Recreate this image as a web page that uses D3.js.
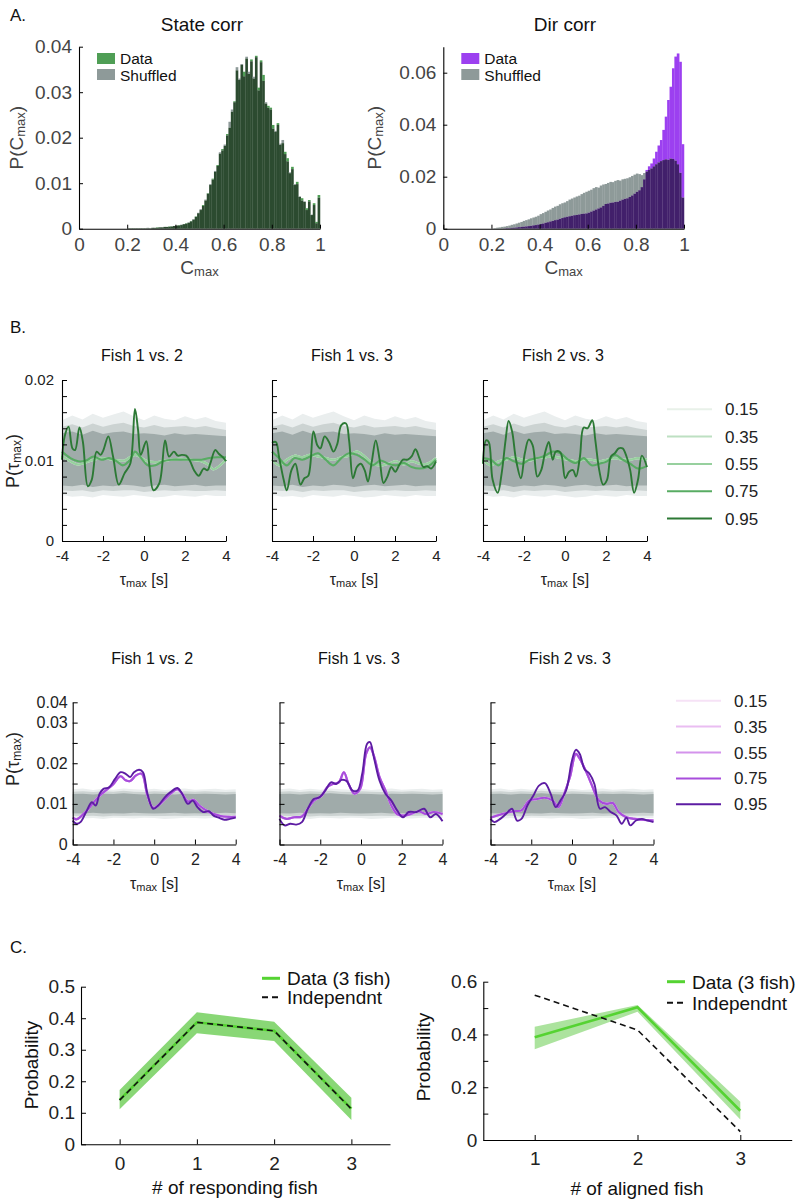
<!DOCTYPE html>
<html><head><meta charset="utf-8">
<script src="https://cdn.jsdelivr.net/npm/d3@7/dist/d3.min.js"></script>
<style>html,body{margin:0;padding:0;background:#fff}svg{display:block}</style>
</head><body>
<svg id="fig" width="800" height="1202" xmlns="http://www.w3.org/2000/svg"></svg>
<script>
// ================= DATA =================
// ---- Panel A: histograms of C_max (100 bins on [0,1]) ----
const cmaxBinStart = d3.range(100).map(i => i / 100);
const cmaxTicks = [0, 0.2, 0.4, 0.6, 0.8, 1];
const stateYTicks = [0, 0.01, 0.02, 0.03, 0.04];
const dirYTicks = [0, 0.02, 0.04, 0.06];

const stateCorrData = [
  0,0,0,0,0,0,0,0,0,0,
  0,0,0,0,0,0,0,0,0,0,
  .0001,.0001,.0001,.0001,.0001,.0001,.0001,.0001,.0001,.0001,
  .0002,.0002,.0003,.0003,.0003,.0004,.0004,.0005,.0005,.0006,
  .0007,.0008,.0008,.0010,.0012,.0013,.0017,.0020,.0027,.0034,
  .0041,.0052,.0062,.0078,.0096,.0110,.0125,.0140,.0165,.0175,
  .0182,.0208,.0222,.0257,.0280,.0348,.0327,.0360,.0345,.0374,
  .0340,.0372,.0330,.0380,.0310,.0370,.0338,.0275,.0270,.0266,
  .0228,.0213,.0232,.0184,.0188,.0169,.0155,.0122,.0136,.0096,
  .0103,.0070,.0067,.0059,.0045,.0063,.0030,.0056,.0015,.0074];
const stateCorrShuffled = [
  0,0,0,0,0,0,0,0,0,0,
  0,0,0,0,0,0,0,0,0,0,
  .0001,.0001,.0001,.0001,.0001,.0001,.0001,.0001,.0002,.0001,
  .0002,.0002,.0002,.0003,.0003,.0004,.0004,.0004,.0005,.0006,
  .0007,.0007,.0009,.0010,.0011,.0014,.0016,.0021,.0026,.0035,
  .0043,.0050,.0064,.0077,.0098,.0108,.0127,.0138,.0168,.0172,
  .0185,.0205,.0235,.0262,.0278,.0355,.0330,.0362,.0335,.0378,
  .0345,.0368,.0334,.0377,.0304,.0366,.0325,.0278,.0266,.0262,
  .0220,.0215,.0228,.0187,.0195,.0164,.0148,.0124,.0131,.0098,
  .0098,.0071,.0062,.0060,.0041,.0060,.0031,.0052,.0012,.0068];
const dirCorrData = [
  0,0,0,0,0,0,0,0,0,0,
  0,0,0,0,0,0,0,0,0,0,
  0,0,0,0,0,.0001,.0002,.0002,.0003,.0004,
  .0005,.0006,.0007,.0008,.0009,.0010,.0011,.0013,.0014,.0016,
  .0018,.0020,.0023,.0025,.0028,.0030,.0033,.0035,.0038,.0041,
  .0044,.0046,.0048,.0050,.0052,.0053,.0055,.0057,.0058,.0059,
  .0062,.0066,.0070,.0074,.0078,.0082,.0088,.0095,.0097,.0100,
  .0101,.0103,.0104,.0108,.0112,.0115,.0117,.0122,.0128,.0135,
  .0142,.0148,.0160,.0190,.0226,.0240,.0251,.0270,.0296,.0320,
  .0341,.0380,.0431,.0495,.0546,.0617,.0662,.0674,.0642,.0325];
const dirCorrShuffled = [
  0,0,0,0,0,0,0,0,0,0,
  0,0,0,0,0,0,0,0,0,0,
  .0001,.0002,.0004,.0005,.0007,.0008,.0010,.0012,.0015,.0017,
  .0020,.0023,.0026,.0030,.0033,.0036,.0040,.0043,.0046,.0050,
  .0056,.0060,.0065,.0070,.0074,.0080,.0085,.0088,.0094,.0098,
  .0101,.0106,.0112,.0116,.0120,.0124,.0127,.0133,.0138,.0142,
  .0146,.0150,.0156,.0160,.0158,.0166,.0170,.0172,.0176,.0180,
  .0179,.0184,.0187,.0185,.0190,.0192,.0194,.0198,.0203,.0208,
  .0212,.0210,.0206,.0214,.0220,.0226,.0232,.0240,.0248,.0255,
  .0260,.0264,.0267,.0265,.0270,.0268,.0262,.0248,.0215,.0120];

// ---- Panel B: P(tau_max) curves, [tau, P] pairs ----
const tauTicks = [-4, -2, 0, 2, 4];
const thresholds = ["0.15", "0.35", "0.55", "0.75", "0.95"];
const pairTitles = ["Fish 1 vs. 2", "Fish 1 vs. 3", "Fish 2 vs. 3"];
const stateTauYTicks = [0,.002,.004,.006,.008,.01,.012,.014,.016,.018,.02];
const stateTauYLabels = {0:"0", 0.01:"0.01", 0.02:"0.02"};
const dirTauYTicks = [0,.005,.01,.015,.02,.025,.03,.035];
const dirTauYLabels = {0:"0", 0.01:"0.01", 0.02:"0.02", 0.03:"0.03", 0.035:"0.04"};

const stateDark12 = [[-4.0,.0101],[-3.87,.0130],[-3.68,.0142],[-3.49,.0115],[-3.36,.0113],[-3.15,.0141],[-2.98,.0123],[-2.74,.0068],[-2.55,.0076],[-2.31,.0111],[-2.12,.0107],[-1.98,.0113],[-1.74,.0130],[-1.51,.0105],[-1.23,.0070],[-0.95,.0084],[-0.67,.0096],[-0.44,.0164],[-0.29,.0138],[-0.16,.0107],[0.11,.0124],[0.27,.0092],[0.46,.0063],[0.75,.0072],[1.03,.0125],[1.22,.0105],[1.46,.0111],[1.65,.0106],[1.84,.0107],[2.06,.0106],[2.25,.0099],[2.44,.0088],[2.67,.0081],[2.91,.0090],[3.10,.0088],[3.23,.0096],[3.48,.0113],[3.66,.0108],[3.85,.0104],[4.0,.0099]];
const stateMid12 = [[-4,.0111],[-3.59,.0103],[-3.21,.0099],[-2.83,.0100],[-2.46,.0105],[-2.08,.0101],[-1.70,.0103],[-1.33,.0099],[-1.04,.0094],[-0.67,.0101],[-0.44,.0111],[-0.20,.0105],[0.18,.0094],[0.56,.0094],[0.93,.0099],[1.31,.0101],[1.69,.0101],[2.06,.0101],[2.44,.0101],[2.82,.0101],[3.19,.0103],[3.57,.0104],[4.0,.0104]];
const stateLight12 = [[-4,.0106],[-3.59,.0099],[-3.21,.0095],[-2.46,.0101],[-2.0,.0103],[-1.51,.0101],[-0.95,.0100],[-0.44,.0107],[0.18,.0099],[0.6,.0098],[1.31,.0101],[1.8,.0102],[2.25,.0101],[2.8,.0099],[3.19,.0094],[3.38,.0089],[4.0,.0101]];
const stateDark13 = [[-4.0,.0122],[-3.81,.0123],[-3.66,.0105],[-3.43,.0076],[-3.28,.0063],[-3.05,.0088],[-2.86,.0096],[-2.61,.0070],[-2.42,.0078],[-2.23,.0081],[-1.98,.0136],[-1.79,.0119],[-1.64,.0115],[-1.43,.0130],[-1.22,.0123],[-1.00,.0111],[-0.81,.0121],[-0.62,.0144],[-0.39,.0146],[-0.24,.0125],[-0.05,.0078],[0.14,.0092],[0.33,.0096],[0.52,.0088],[0.68,.0074],[0.87,.0099],[1.06,.0125],[1.25,.0101],[1.44,.0072],[1.63,.0080],[1.82,.0092],[2.01,.0086],[2.20,.0094],[2.39,.0101],[2.62,.0101],[2.81,.0105],[3.00,.0114],[3.19,.0103],[3.38,.0092],[3.57,.0093],[3.76,.0090],[4.0,.0099]];
const stateMid13 = [[-4,.0111],[-3.66,.0103],[-3.28,.0094],[-2.90,.0103],[-2.52,.0101],[-2.14,.0105],[-1.76,.0109],[-1.38,.0101],[-1.00,.0094],[-0.62,.0103],[-0.24,.0109],[0.14,.0107],[0.52,.0101],[0.90,.0094],[1.29,.0100],[1.67,.0096],[2.05,.0094],[2.43,.0097],[2.81,.0092],[3.19,.0090],[3.57,.0092],[4.0,.0101]];
const stateLight13 = [[-4,.0101],[-3.66,.0094],[-3.28,.0101],[-2.90,.0106],[-2.52,.0104],[-2.14,.0107],[-1.76,.0105],[-1.38,.0103],[-1.00,.0101],[-0.62,.0104],[-0.24,.0106],[0.14,.0111],[0.52,.0105],[0.90,.0096],[1.29,.0094],[1.67,.0096],[2.05,.0099],[2.43,.0095],[2.81,.0099],[3.19,.0096],[3.57,.0096],[4.0,.0103]];
const stateDark23 = [[-4.0,.0096],[-3.85,.0125],[-3.72,.0123],[-3.53,.0076],[-3.28,.0060],[-3.09,.0084],[-2.90,.0125],[-2.75,.0149],[-2.58,.0136],[-2.39,.0101],[-2.15,.0078],[-1.96,.0109],[-1.77,.0126],[-1.58,.0119],[-1.35,.0080],[-1.16,.0088],[-0.98,.0109],[-0.79,.0123],[-0.60,.0101],[-0.45,.0111],[-0.22,.0110],[0.01,.0078],[0.20,.0086],[0.39,.0088],[0.54,.0080],[0.73,.0105],[0.91,.0141],[1.10,.0140],[1.33,.0150],[1.48,.0125],[1.67,.0088],[1.86,.0070],[2.05,.0076],[2.24,.0105],[2.43,.0109],[2.62,.0115],[2.81,.0115],[3.00,.0105],[3.18,.0088],[3.37,.0060],[3.56,.0076],[3.75,.0106],[4.0,.0092]];
const stateMid23 = [[-4,.0103],[-3.62,.0101],[-3.24,.0094],[-2.87,.0103],[-2.49,.0099],[-2.11,.0096],[-1.73,.0101],[-1.35,.0103],[-0.98,.0106],[-0.60,.0111],[-0.22,.0109],[0.16,.0101],[0.54,.0097],[0.91,.0103],[1.29,.0094],[1.67,.0096],[2.05,.0099],[2.43,.0107],[2.81,.0101],[3.18,.0096],[3.56,.0090],[4.0,.0093]];
const stateLight23 = [[-4,.0101],[-3.62,.0094],[-3.24,.0099],[-2.87,.0101],[-2.49,.0104],[-2.11,.0101],[-1.73,.0100],[-1.35,.0103],[-0.98,.0104],[-0.60,.0105],[-0.22,.0103],[0.16,.0101],[0.54,.0099],[0.91,.0101],[1.29,.0101],[1.67,.0099],[2.05,.0101],[2.43,.0103],[2.81,.0101],[3.18,.0101],[3.56,.0103],[4.0,.0101]];

const dirDark12 = [[-4,.0059],[-3.81,.0051],[-3.62,.0055],[-3.34,.0080],[-3.06,.0104],[-2.87,.0096],[-2.68,.0125],[-2.49,.0137],[-2.21,.0141],[-1.93,.0161],[-1.65,.0178],[-1.40,.0174],[-1.18,.0166],[-0.99,.0178],[-0.74,.0184],[-0.55,.0178],[-0.33,.0125],[-0.05,.0088],[0.20,.0096],[0.52,.0116],[0.80,.0129],[1.14,.0139],[1.37,.0125],[1.65,.0100],[1.89,.0108],[2.12,.0092],[2.40,.0080],[2.69,.0082],[2.91,.0071],[3.16,.0066],[3.44,.0061],[3.72,.0063],[4.0,.0066]];
const dirLight12 = [[-4,.0066],[-3.81,.0062],[-3.34,.0082],[-2.68,.0120],[-2.02,.0148],[-1.65,.0168],[-1.40,.0158],[-1.18,.0156],[-0.89,.0170],[-0.61,.0174],[-0.33,.0120],[-0.05,.0090],[0.24,.0098],[0.80,.0125],[1.14,.0136],[1.37,.0125],[1.65,.0106],[1.93,.0110],[2.21,.0096],[2.69,.0080],[3.25,.0070],[3.63,.0068],[4.0,.0068]];
const dirDark13 = [[-4,.0063],[-3.75,.0047],[-3.47,.0051],[-3.18,.0049],[-2.90,.0055],[-2.61,.0088],[-2.32,.0112],[-2.04,.0116],[-1.75,.0133],[-1.47,.0153],[-1.22,.0149],[-0.95,.0159],[-0.70,.0156],[-0.42,.0133],[-0.17,.0133],[0.06,.0174],[0.30,.0248],[0.44,.0252],[0.63,.0215],[0.91,.0157],[1.20,.0125],[1.49,.0108],[1.77,.0084],[2.06,.0067],[2.34,.0080],[2.72,.0080],[3.10,.0088],[3.39,.0067],[3.68,.0075],[4.0,.0057]];
const dirLight13 = [[-4,.0071],[-3.66,.0063],[-3.28,.0067],[-2.90,.0069],[-2.61,.0088],[-2.32,.0108],[-1.94,.0120],[-1.66,.0141],[-1.37,.0149],[-1.09,.0153],[-0.84,.0178],[-0.61,.0149],[-0.32,.0125],[-0.04,.0137],[0.25,.0223],[0.44,.0239],[0.63,.0219],[0.91,.0166],[1.20,.0133],[1.49,.0096],[1.77,.0075],[2.06,.0071],[2.44,.0075],[2.82,.0082],[3.20,.0075],[3.58,.0080],[4.0,.0075]];
const dirDark23 = [[-4,.0063],[-3.81,.0055],[-3.52,.0063],[-3.24,.0075],[-2.95,.0088],[-2.70,.0059],[-2.48,.0063],[-2.19,.0096],[-1.90,.0120],[-1.62,.0145],[-1.33,.0151],[-1.05,.0125],[-0.80,.0092],[-0.57,.0108],[-0.29,.0133],[0.0,.0207],[0.19,.0233],[0.38,.0223],[0.61,.0186],[0.86,.0174],[1.10,.0149],[1.37,.0088],[1.62,.0092],[1.90,.0080],[2.19,.0071],[2.44,.0051],[2.67,.0066],[2.86,.0047],[3.14,.0059],[3.43,.0063],[3.71,.0059],[4.0,.0055]];
const dirLight23 = [[-4,.0066],[-3.43,.0075],[-2.86,.0082],[-2.48,.0084],[-2.10,.0108],[-1.71,.0112],[-1.33,.0115],[-0.95,.0108],[-0.67,.0092],[-0.38,.0125],[-0.10,.0166],[0.19,.0223],[0.38,.0211],[0.67,.0182],[0.95,.0149],[1.33,.0108],[1.71,.0100],[2.0,.0102],[2.29,.0080],[2.67,.0067],[3.05,.0063],[3.43,.0061],[4.0,.0059]];

// shuffled-curve envelopes (gray band), sampled on tauBandGrid
const tauBandGrid = [-4,-3.5,-3,-2.5,-2,-1.5,-1,-0.5,0,0.5,1,1.5,2,2.5,3,3.5,4];
const stateBandOuterHi = [.0150,.0156,.0151,.0158,.0153,.0157,.0161,.0155,.0150,.0156,.0152,.0150,.0155,.0151,.0154,.0149,.0147];
const stateBandMidHi   = [.0142,.0145,.0141,.0146,.0142,.0145,.0147,.0143,.0141,.0144,.0141,.0142,.0143,.0141,.0143,.0140,.0138];
const stateBandInnerHi = [.0134,.0136,.0132,.0137,.0133,.0135,.0136,.0133,.0134,.0133,.0131,.0134,.0132,.0133,.0132,.0131,.0130];
const stateBandInnerLo = [.0069,.0068,.0070,.0067,.0069,.0068,.0070,.0069,.0067,.0069,.0070,.0068,.0069,.0070,.0068,.0069,.0069];
const stateBandMidLo   = [.0063,.0062,.0063,.0061,.0063,.0062,.0063,.0063,.0061,.0062,.0063,.0062,.0063,.0062,.0062,.0063,.0062];
const stateBandOuterLo = [.0057,.0055,.0056,.0054,.0057,.0056,.0055,.0057,.0056,.0054,.0055,.0057,.0056,.0055,.0057,.0056,.0056];
const dirBandOuterHi = [.0136,.0138,.0134,.0137,.0135,.0138,.0136,.0135,.0137,.0134,.0136,.0138,.0135,.0136,.0137,.0135,.0136];
const dirBandMidHi   = [.0130,.0131,.0129,.0131,.0130,.0132,.0130,.0129,.0131,.0130,.0129,.0131,.0130,.0131,.0130,.0129,.0130];
const dirBandInnerHi = [.0124,.0125,.0123,.0125,.0124,.0126,.0124,.0123,.0125,.0124,.0123,.0125,.0124,.0125,.0124,.0123,.0124];
const dirBandInnerLo = [.0077,.0076,.0078,.0076,.0077,.0076,.0078,.0077,.0076,.0077,.0078,.0076,.0077,.0076,.0077,.0078,.0077];
const dirBandMidLo   = [.0071,.0070,.0071,.0069,.0071,.0070,.0071,.0071,.0070,.0070,.0071,.0070,.0071,.0070,.0071,.0071,.0071];
const dirBandOuterLo = [.0066,.0064,.0065,.0063,.0066,.0065,.0064,.0066,.0065,.0063,.0064,.0066,.0065,.0064,.0066,.0065,.0065];

// ---- Panel C ----
const respondCounts = [0, 1, 2, 3];
const respondMean  = [0.141, 0.387, 0.360, 0.113];
const respondLo    = [0.111, 0.352, 0.328, 0.077];
const respondHi    = [0.172, 0.419, 0.389, 0.148];
const respondIndep = [0.140, 0.387, 0.360, 0.112];
const respondYTicks = [0, 0.1, 0.2, 0.3, 0.4, 0.5];
const alignedCounts = [1, 2, 3];
const alignedMean  = [0.389, 0.503, 0.111];
const alignedLo    = [0.344, 0.486, 0.078];
const alignedHi    = [0.429, 0.512, 0.145];
const alignedIndep = [0.549, 0.417, 0.032];
const alignedYTicks = [0, 0.1, 0.2, 0.3, 0.4, 0.5, 0.6];

// ================= DRAWING =================
const FONT = "'Liberation Sans', Arial, Helvetica, sans-serif";
const svg = d3.select("#fig").attr("font-family", FONT);
const greenShades = ["#e8f1e9", "#bde0c2", "#97d09e", "#58ac63", "#2c7935"];
const purpleShades = ["#f6e2f6", "#eabdf2", "#d493ec", "#a84ddc", "#5d1ca3"];

function richText(g, x, y, parts, size, subSize, anchor, rotate, fill) {
  const t = g.append("text").attr("x", x).attr("y", y).attr("font-size", size)
    .attr("text-anchor", anchor || "middle").attr("fill", fill || "#111");
  if (rotate) t.attr("transform", `rotate(-90,${x},${y})`);
  let prevSub = false;
  parts.forEach(p => {
    const ts = t.append("tspan").text(p.t);
    if (p.sub) { ts.attr("font-size", subSize).attr("dy", 2); prevSub = true; }
    else if (prevSub) { ts.attr("dy", -2); prevSub = false; }
  });
  return t;
}
function styleAxis(a, fontSize, color) {
  a.attr("font-family", FONT);
  a.select(".domain").attr("stroke", "#000").attr("stroke-width", 1.1);
  a.selectAll(".tick line").attr("stroke", "#000").attr("stroke-width", 1);
  a.selectAll(".tick text").attr("font-size", fontSize).attr("fill", color);
}
function panelLabel(txt, x, y) {
  svg.append("text").attr("x", x).attr("y", y).attr("font-size", 17).attr("fill", "#111").text(txt);
}

// ---------- Panel A ----------
panelLabel("A.", 10, 21);
function drawHist(cfg) {
  const g = svg.append("g");
  const x = d3.scaleLinear([0, 1], [cfg.left, cfg.left + cfg.w]);
  const y = d3.scaleLinear([0, cfg.yMax], [cfg.top + cfg.h, cfg.top]);
  const bw = 0.01;
  cmaxBinStart.forEach((b, i) => {
    const d = cfg.data[i], s = cfg.shuf[i];
    const hi = Math.max(d, s), lo = Math.min(d, s);
    const x0 = x(b), wpx = x(b + bw) - x(b) + 0.25;
    if (hi > lo) g.append("rect").attr("x", x0).attr("width", wpx)
      .attr("y", y(hi)).attr("height", y(lo) - y(hi)).attr("fill", d > s ? cfg.dataColor : cfg.shufColor);
    if (lo > 0) g.append("rect").attr("x", x0).attr("width", wpx)
      .attr("y", y(lo)).attr("height", y(0) - y(lo)).attr("fill", cfg.overlapColor);
  });
  const ax = g.append("g").attr("transform", `translate(0,${cfg.top + cfg.h})`)
    .call(d3.axisBottom(x).tickValues(cmaxTicks).tickFormat(d => d === 0 ? "0" : d === 1 ? "1" : d3.format(".1f")(d))
      .tickSizeInner(-4).tickSizeOuter(0).tickPadding(9));
  styleAxis(ax, 19, "#444");
  const ay = g.append("g").attr("transform", `translate(${cfg.left},0)`)
    .call(d3.axisLeft(y).tickValues(cfg.yTicks).tickFormat(d => d === 0 ? "0" : d3.format(".2f")(d))
      .tickSizeInner(-4).tickSizeOuter(0).tickPadding(7));
  styleAxis(ay, 19, "#444");
  g.append("text").attr("x", cfg.titleX).attr("y", 31).attr("text-anchor", "middle")
    .attr("font-size", 19).attr("fill", "#111").text(cfg.title);
  richText(g, cfg.left + cfg.w / 2, 274, [{t: "C"}, {t: "max", sub: true}], 19, 13, "middle", false, "#444");
  richText(g, cfg.yLabelX, cfg.top + cfg.h / 2, [{t: "P(C"}, {t: "max", sub: true}, {t: ")"}], 19, 13, "middle", true, "#444");
  // legend
  const lx = cfg.left + 18;
  g.append("rect").attr("x", lx).attr("y", 53).attr("width", 18).attr("height", 11).attr("fill", cfg.dataColor);
  g.append("rect").attr("x", lx).attr("y", 69).attr("width", 18).attr("height", 11).attr("fill", cfg.shufColor);
  g.append("text").attr("x", lx + 23).attr("y", 64).attr("font-size", 15.5).attr("fill", "#111").text("Data");
  g.append("text").attr("x", lx + 23).attr("y", 81).attr("font-size", 15.5).attr("fill", "#111").text("Shuffled");
}
drawHist({left: 79, top: 46.7, w: 241, h: 182, yMax: 0.04, yTicks: stateYTicks,
  data: stateCorrData, shuf: stateCorrShuffled, dataColor: "#4f9e55", shufColor: "#8e9a99", overlapColor: "#2c4b30",
  title: "State corr", titleX: 202, yLabelX: 23});
drawHist({left: 443.3, top: 46.7, w: 240.7, h: 182, yMax: 0.07, yTicks: dirYTicks,
  data: dirCorrData, shuf: dirCorrShuffled, dataColor: "#9c40f0", shufColor: "#8e9a99", overlapColor: "#42206b",
  title: "Dir corr", titleX: 565, yLabelX: 381});

// ---------- Panel B ----------
panelLabel("B.", 10, 333);
function drawTau(cfg) {
  const g = svg.append("g");
  const x = d3.scaleLinear([-4, 4], [cfg.left, cfg.left + cfg.w]);
  const y = d3.scaleLinear([0, cfg.yMax], [cfg.top + cfg.h, cfg.top]);
  const area = d3.area().x((d, i) => x(tauBandGrid[i])).y0(d => y(d[0])).y1(d => y(d[1]));
  const b = cfg.band;
  g.append("path").datum(d3.zip(b.outerLo, b.outerHi)).attr("d", area).attr("fill", "#eaeeee");
  g.append("path").datum(d3.zip(b.midLo, b.midHi)).attr("d", area).attr("fill", "#ccd3d2");
  g.append("path").datum(d3.zip(b.innerLo, b.innerHi)).attr("d", area).attr("fill", "#a0abaa");
  const line = d3.line().x(d => x(d[0])).y(d => y(d[1])).curve(d3.curveCatmullRom.alpha(0.5));
  cfg.series.forEach((s, i) => {
    g.append("path").datum(s).attr("d", line).attr("fill", "none")
      .attr("stroke", cfg.colors[i]).attr("stroke-width", i === 4 ? 1.9 : 2.1).attr("stroke-linejoin", "round");
  });
  const ax = g.append("g").attr("transform", `translate(0,${cfg.top + cfg.h})`)
    .call(d3.axisBottom(x).tickValues(tauTicks).tickFormat(d3.format("d")).tickSizeInner(-5).tickSizeOuter(0).tickPadding(cfg.xPad));
  styleAxis(ax, cfg.tickFont, "#222");
  ax.selectAll(".tick text").text(d => d < 0 ? "-" + Math.abs(d) : d);
  const ay = g.append("g").attr("transform", `translate(${cfg.left},0)`)
    .call(d3.axisLeft(y).tickValues(cfg.yTicks).tickFormat(d => cfg.showY ? (cfg.yLabels[d] || "") : "")
      .tickSizeInner(-5).tickSizeOuter(0).tickPadding(cfg.yPad));
  styleAxis(ay, cfg.tickFont, "#222");
  g.append("text").attr("x", cfg.left + cfg.w / 2 - 2).attr("y", cfg.titleY).attr("text-anchor", "middle")
    .attr("font-size", 16).attr("fill", "#111").text(cfg.title);
  richText(g, cfg.left + cfg.w / 2, cfg.top + cfg.h + 44, [{t: "τ"}, {t: "max", sub: true}, {t: " [s]"}], 16, 11, "middle", false, "#222");
  if (cfg.showY) richText(g, 19, cfg.yLabelMid, [{t: "P(τ"}, {t: "max", sub: true}, {t: ")"}], 18, 12, "middle", true, "#222");
}
function drawLegend(x0, y0, dy, colors) {
  thresholds.forEach((t, i) => {
    svg.append("line").attr("x1", x0).attr("x2", x0 + 45).attr("y1", y0 + i * dy).attr("y2", y0 + i * dy)
      .attr("stroke", colors[i]).attr("stroke-width", 2);
    svg.append("text").attr("x", x0 + 58).attr("y", y0 + i * dy + 6).attr("font-size", 17).attr("fill", "#222").text(t);
  });
}
const stateBand = {outerLo: stateBandOuterLo, outerHi: stateBandOuterHi, midLo: stateBandMidLo, midHi: stateBandMidHi, innerLo: stateBandInnerLo, innerHi: stateBandInnerHi};
const dirBand = {outerLo: dirBandOuterLo, outerHi: dirBandOuterHi, midLo: dirBandMidLo, midHi: dirBandMidHi, innerLo: dirBandInnerLo, innerHi: dirBandInnerHi};
const stateSeries = [
  [stateLight12, stateLight12, stateLight12, stateMid12, stateDark12],
  [stateLight13, stateLight13, stateLight13, stateMid13, stateDark13],
  [stateLight23, stateLight23, stateLight23, stateMid23, stateDark23]];
const dirSeries = [
  [dirLight12, dirLight12, dirLight12, dirLight12, dirDark12],
  [dirLight13, dirLight13, dirLight13, dirLight13, dirDark13],
  [dirLight23, dirLight23, dirLight23, dirLight23, dirDark23]];
const topLefts = [62, 272, 483];
const botLefts = [72.7, 279.5, 490.5];
pairTitles.forEach((title, i) => {
  drawTau({left: topLefts[i], top: 380, w: 164, h: 161, yMax: 0.02, yTicks: stateTauYTicks, yLabels: stateTauYLabels,
    showY: i === 0, title, titleY: 361, series: stateSeries[i], colors: greenShades, band: stateBand,
    tickFont: 15, xPad: 9, yPad: 8, yLabelMid: 461});
  drawTau({left: botLefts[i], top: 702.3, w: 163, h: 142.2, yMax: 0.035, yTicks: dirTauYTicks, yLabels: dirTauYLabels,
    showY: i === 0, title, titleY: 664, series: dirSeries[i], colors: purpleShades, band: dirBand,
    tickFont: 16, xPad: 9, yPad: 5, yLabelMid: 759});
});
drawLegend(667, 409.3, 27.3, greenShades);
drawLegend(676, 700.7, 25.9, purpleShades);

// ---------- Panel C ----------
panelLabel("C.", 10, 953);
function drawProb(cfg) {
  const g = svg.append("g");
  const x = d3.scaleLinear(cfg.xDom, [cfg.left, cfg.left + cfg.w]);
  const y = d3.scaleLinear([0, cfg.yMax], [cfg.top + cfg.h, cfg.top]);
  const area = d3.area().x((d, i) => x(cfg.counts[i])).y0(d => y(d[0])).y1(d => y(d[1]));
  g.append("path").datum(d3.zip(cfg.lo, cfg.hi)).attr("d", area).attr("fill", "#74d05e").attr("opacity", cfg.bandOpacity);
  const line = d3.line().x((d, i) => x(cfg.counts[i])).y(d => y(d));
  g.append("path").datum(cfg.mean).attr("d", line).attr("fill", "none").attr("stroke", "#55d332").attr("stroke-width", 2.6);
  g.append("path").datum(cfg.indep).attr("d", line).attr("fill", "none").attr("stroke", "#111")
    .attr("stroke-width", 1.6).attr("stroke-dasharray", "6,4");
  const ax = g.append("g").attr("transform", `translate(0,${cfg.top + cfg.h})`)
    .call(d3.axisBottom(x).tickValues(cfg.counts).tickFormat(d3.format("d")).tickSizeInner(-5).tickSizeOuter(0).tickPadding(12));
  styleAxis(ax, 19, "#222");
  const ay = g.append("g").attr("transform", `translate(${cfg.left},0)`)
    .call(d3.axisLeft(y).tickValues(cfg.yTicks).tickFormat(cfg.yFmt).tickSizeInner(-5).tickSizeOuter(0).tickPadding(6));
  styleAxis(ay, 19, "#222");
  g.append("text").attr("x", cfg.xLabelX).attr("y", cfg.xLabelY).attr("text-anchor", "middle")
    .attr("font-size", 19).attr("fill", "#111").text(cfg.xLabel);
  g.append("text").attr("x", cfg.yLabelX).attr("y", cfg.yLabelMid).attr("text-anchor", "middle")
    .attr("transform", `rotate(-90,${cfg.yLabelX},${cfg.yLabelMid})`)
    .attr("font-size", 19).attr("fill", "#111").text("Probability");
  const [lx, ly, dy] = cfg.legend;
  g.append("line").attr("x1", lx).attr("x2", lx + 18).attr("y1", ly).attr("y2", ly).attr("stroke", "#55d332").attr("stroke-width", 3);
  g.append("line").attr("x1", lx).attr("x2", lx + 18).attr("y1", ly + dy).attr("y2", ly + dy).attr("stroke", "#111")
    .attr("stroke-width", 2).attr("stroke-dasharray", "6,4");
  g.append("text").attr("x", lx + 25).attr("y", ly + 7).attr("font-size", 19).attr("fill", "#111").text("Data (3 fish)");
  g.append("text").attr("x", lx + 25).attr("y", ly + dy + 7).attr("font-size", 19).attr("fill", "#111").text("Independnt");
}
drawProb({left: 81, top: 986.7, w: 309, h: 157.6, xDom: [-0.5, 3.5], yMax: 0.5, counts: respondCounts,
  mean: respondMean, lo: respondLo, hi: respondHi, indep: respondIndep, yTicks: respondYTicks,
  yFmt: d => d === 0 ? "0" : d3.format(".1f")(d), bandOpacity: 0.85,
  xLabel: "# of responding fish", xLabelX: 235, xLabelY: 1194, yLabelX: 38, yLabelMid: 1065, legend: [262, 978.3, 19]});
drawProb({left: 483.3, top: 981.7, w: 308.4, h: 158.3, xDom: [0.5, 3.5], yMax: 0.6, counts: alignedCounts,
  mean: alignedMean, lo: alignedLo, hi: alignedHi, indep: alignedIndep, yTicks: alignedYTicks,
  yFmt: d => [0, 0.2, 0.4, 0.6].some(v => Math.abs(v - d) < 1e-9) ? (d === 0 ? "0" : d3.format(".1f")(d)) : "",
  bandOpacity: 0.6,
  xLabel: "# of aligned fish", xLabelX: 637, xLabelY: 1195, yLabelX: 430, yLabelMid: 1057, legend: [667, 981.7, 21]});
</script>
</body></html>
